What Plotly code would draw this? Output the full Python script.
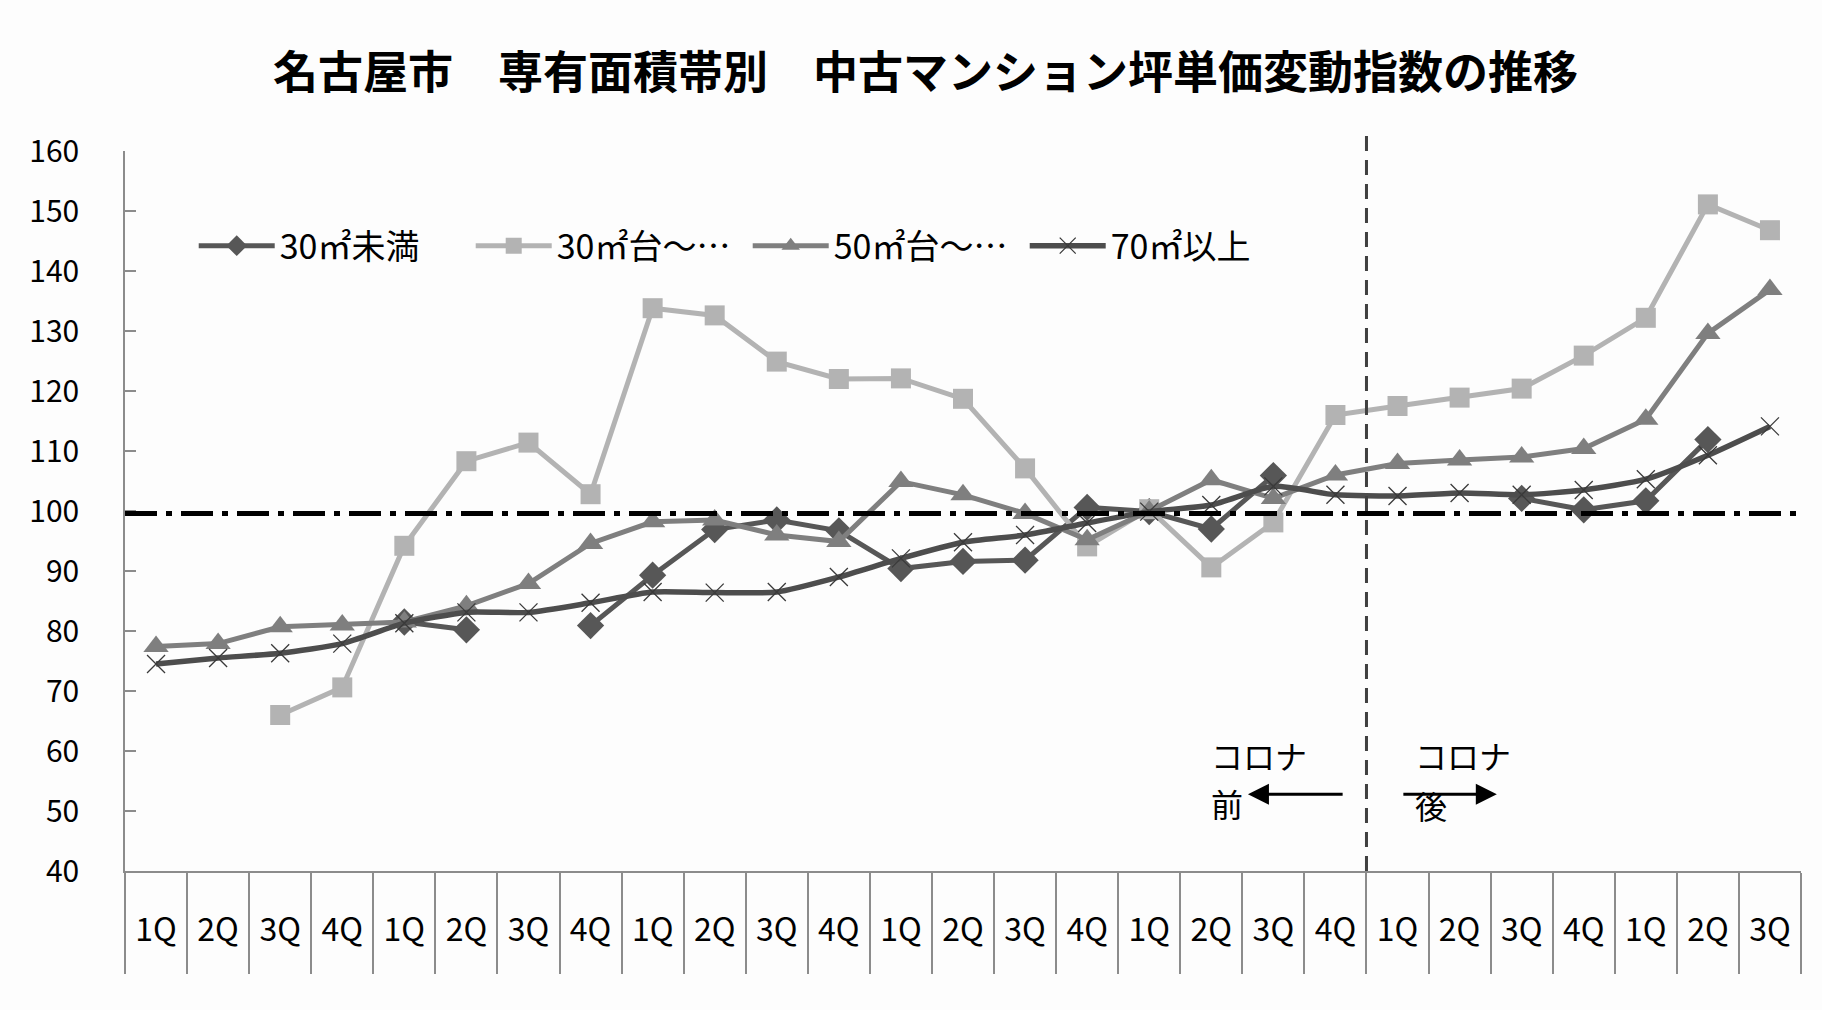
import plotly.graph_objects as go

# quarters (6 full years + 3 quarters)
periods = ["1Q", "2Q", "3Q", "4Q"] * 6 + ["1Q", "2Q", "3Q"]

# index values (None = no data)
under30 = [None, None, None, None, 81.5, 80.2, None, 80.9, 89.3, 96.9, 98.5, 96.7, 90.4, 91.6,
           91.8, 100.6, 99.9, 97.0, 105.9, None, None, None, 102.1, 100.2, 101.7, 111.9, None]
from30 = [None, None, 66.0, 70.6, 94.2, 108.3, 111.4, 102.8, 133.8, 132.6, 124.9, 122.0, 122.1, 118.7,
          107.1, 94.1, 100.3, 90.6, 98.1, 116.0, 117.5, 118.9, 120.4, 125.9, 132.2, 151.1, 146.8]
from50 = [77.4, 77.9, 80.7, 81.0, 81.5, 84.2, 87.9, 94.6, 98.2, 98.5, 96.0, 94.9, 104.9, 102.7,
          99.6, 95.2, 100.0, 105.2, 102.1, 106.0, 107.9, 108.5, 109.0, 110.4, 115.3, 129.6, 136.9]
over70 = [74.5, 75.5, 76.3, 77.9, 81.3, 83.1, 83.1, 84.7, 86.5, 86.4, 86.5, 89.0, 92.1, 94.8,
          96.0, 98.0, 99.9, 101.0, 104.1, 102.7, 102.5, 103.0, 102.7, 103.5, 105.3, 109.3, 114.1]

names = ["30㎡未満", "30㎡台～…", "50㎡台～…", "70㎡以上"]
base_line = 99.6      # dash-dot reference line
covid_split = 19.5    # between 4Q and 1Q

FONT = "Noto Sans CJK JP"
xs = list(range(len(periods)))

fig = go.Figure()

fig.add_trace(go.Scatter(x=xs, y=under30, name=names[0], mode="lines+markers",
                         line=dict(color="#575757", width=5),
                         marker=dict(symbol="diamond", size=21, color="#575757")))
fig.add_trace(go.Scatter(x=xs, y=from30, name=names[1], mode="lines+markers",
                         line=dict(color="#b3b3b3", width=5),
                         marker=dict(symbol="square", size=20, color="#b3b3b3")))
fig.add_trace(go.Scatter(x=xs, y=from50, name=names[2], mode="lines+markers",
                         line=dict(color="#7f7f7f", width=5),
                         marker=dict(symbol="triangle-up", size=22, color="#7f7f7f")))
fig.add_trace(go.Scatter(x=xs, y=over70, name=names[3], mode="lines+markers",
                         line=dict(color="#4d4d4d", width=5.5, shape="spline", smoothing=0.6),
                         marker=dict(symbol="x-thin", size=18,
                                     line=dict(color="#3a3a3a", width=1.3))))

# reference line at 100 and covid divider
fig.add_shape(type="line", xref="x", yref="y", x0=-0.5, x1=len(periods) - 0.5,
              y0=base_line, y1=base_line,
              line=dict(color="black", width=5, dash="32px,9px,6px,9px"))
fig.add_shape(type="line", xref="x", yref="paper", x0=covid_split, x1=covid_split,
              y0=0, y1=1.026, line=dict(color="#404040", width=3, dash="15px,9px"))

ann_font = dict(family=FONT, size=32, color="black")
fig.add_annotation(x=16.96, y=59.3, text="コロナ", showarrow=False, xanchor="left", font=ann_font)
fig.add_annotation(x=16.96, y=51.3, text="前", showarrow=False, xanchor="left", font=ann_font)
fig.add_annotation(x=20.25, y=59.3, text="コロナ", showarrow=False, xanchor="left", font=ann_font)
fig.add_annotation(x=20.25, y=51.0, text="後", showarrow=False, xanchor="left", font=ann_font)
fig.add_annotation(x=17.59, y=52.8, ax=19.14, ay=52.8, axref="x", ayref="y", text="",
                   showarrow=True, arrowhead=2, arrowsize=1.4, arrowwidth=3, arrowcolor="black")
fig.add_annotation(x=21.60, y=52.8, ax=20.07, ay=52.8, axref="x", ayref="y", text="",
                   showarrow=True, arrowhead=2, arrowsize=1.4, arrowwidth=3, arrowcolor="black")

bounds = [i - 0.5 for i in range(len(periods) + 1)]

fig.update_layout(
    width=1822, height=1010,
    paper_bgcolor="#fdfdfd", plot_bgcolor="#fdfdfd",
    margin=dict(l=125, r=21, t=151, b=139),
    font=dict(family=FONT, color="black"),
    title=dict(text="<b>名古屋市　専有面積帯別　中古マンション坪単価変動指数の推移</b>",
               x=0.508, xanchor="center", y=0.927, yanchor="middle",
               font=dict(family=FONT, size=45, color="black")),
    showlegend=True,
    legend=dict(orientation="h", x=0.041, y=0.868, xanchor="left", yanchor="middle",
                entrywidth=186, entrywidthmode="pixels", itemwidth=76,
                bgcolor="rgba(0,0,0,0)", font=dict(family=FONT, size=34)),
    xaxis=dict(range=[-0.5, len(periods) - 0.5], tickmode="array", tickvals=xs, ticktext=periods,
               ticks="", showgrid=False, zeroline=False, showline=True, linecolor="#8c8c8c",
               linewidth=1.5, tickfont=dict(size=32), ticklabelstandoff=30,
               minor=dict(tickmode="array", tickvals=bounds, ticks="outside", ticklen=101,
                          tickcolor="#8c8c8c", tickwidth=1.5)),
    xaxis2=dict(overlaying="x", matches="x", anchor="y", side="bottom", tickmode="array",
                tickvals=bounds, ticks="inside", ticklen=13, tickcolor="#8c8c8c", tickwidth=1.5,
                showticklabels=False, showgrid=False, zeroline=False, showline=False),
    yaxis=dict(range=[40, 160], tick0=40, dtick=10, ticks="inside", ticklen=11,
               tickcolor="#8c8c8c", tickwidth=1.5, showgrid=False, zeroline=False,
               showline=True, linecolor="#8c8c8c", linewidth=1.5,
               tickfont=dict(size=30), ticklabelstandoff=38),
)

fig.write_html("out.html", config={"displayModeBar": False},
               post_script="document.body.style.margin='0';document.body.style.overflow='hidden';")
